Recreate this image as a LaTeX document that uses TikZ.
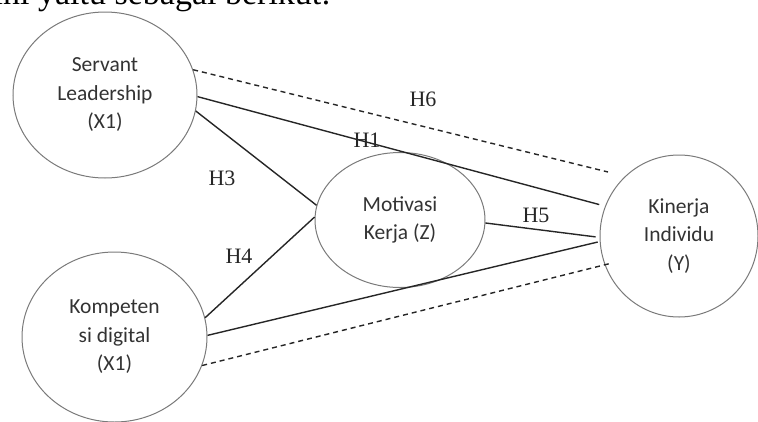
\documentclass[tikz,border=0pt]{standalone}
\usepackage{fontspec}
\setmainfont{Liberation Serif}
\newfontfamily\nodefont{Carlito}
\usetikzlibrary{shapes.geometric}
\definecolor{circ}{HTML}{7A7A7A}
\definecolor{ink}{HTML}{262626}
\definecolor{txt}{HTML}{333333}
\begin{document}
\begin{tikzpicture}[x=1pt,y=-1pt,
  var/.style={ellipse,draw=circ,line width=1pt,inner sep=0pt,align=center,
    font=\nodefont\fontsize{21.5}{28.5}\selectfont,text=txt},
  link/.style={draw=ink,line width=1.4pt},
  dlink/.style={draw=ink,line width=1.4pt,dash pattern=on 5pt off 4pt},
  hlab/.style={font=\fontsize{22}{22}\selectfont,text=ink,inner sep=0pt}]
\useasboundingbox (0,0) rectangle (758,421);
\begin{scope}
\clip (0,0) rectangle (758,421);
\node[anchor=base east,inner sep=0pt,font=\fontsize{34}{34}\selectfont,text=black] (intro) at (331,4) {ini yaitu sebagai berikut:};
\node[var,minimum width=184pt,minimum height=166pt] (sl) at (105,95) {Servant\\Leadership\\(X1)};
\node[var,minimum width=185pt,minimum height=170pt] (kd) at (114.5,337) {Kompeten\\si digital\\(X1)};
\end{scope}
\node[var,minimum width=170pt,minimum height=135pt] (mk) at (400,220) {Motivasi\\Kerja (Z)};
\node[var,minimum width=158pt,minimum height=162pt] (ki) at (679,236) {Kinerja\\Individu\\(Y)};
\coordinate (h6end) at (608,172);
\coordinate (dbend) at (612,263);
% connectors
\draw[dlink] (sl.16.5) -- (h6end);
\draw[link,shorten >=6pt] (sl.-1) -- (ki.158.6);
\draw[link] (sl.-10) -- (mk.170.3);
\draw[link] (kd.12.4) -- (mk.178);
\draw[link,shorten >=4pt] (mk.-2) -- (ki.181);
\draw[link,shorten >=2pt] (kd.1.2) -- (ki.184);
\draw[dlink] (kd.-18) -- (dbend);
% labels
\node[hlab] (h6) at (423,99) {H6};
\node[hlab] (h1) at (367,140) {H1};
\node[hlab] (h3) at (222,178) {H3};
\node[hlab] (h4) at (239,256) {H4};
\node[hlab] (h5) at (536,215) {H5};
\end{tikzpicture}
\end{document}
